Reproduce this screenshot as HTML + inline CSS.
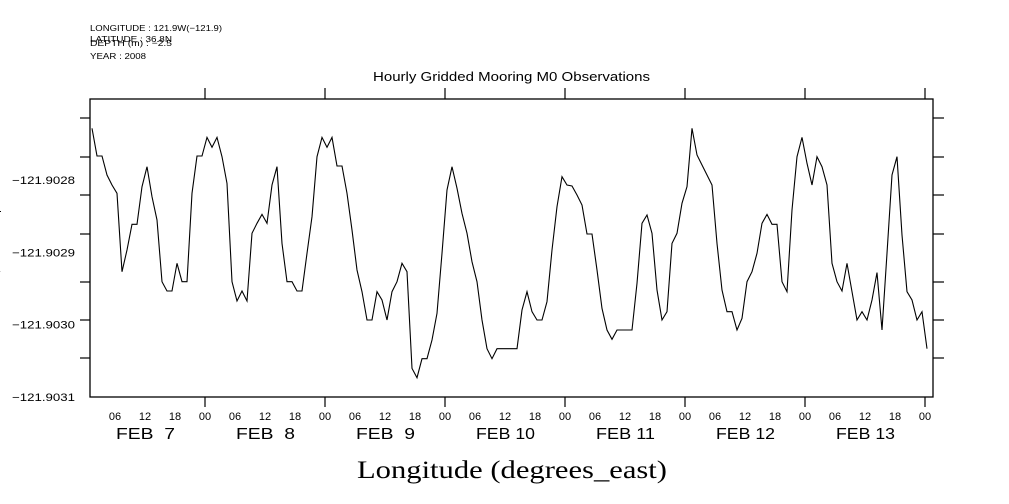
<!DOCTYPE html>
<html><head><meta charset="utf-8"><style>
html,body{margin:0;padding:0;background:#fff;width:1009px;height:504px;overflow:hidden}
svg{display:block}
text{font-family:"Liberation Sans",sans-serif;fill:#000}
</style></head><body>
<svg id="chart" width="1009" height="504" viewBox="0 0 1009 504" xmlns="http://www.w3.org/2000/svg">
<g font-size="8.5">
<text x="90" y="31" textLength="132" lengthAdjust="spacingAndGlyphs">LONGITUDE : 121.9W(−121.9)</text>
<text x="90" y="42" textLength="82" lengthAdjust="spacingAndGlyphs">LATITUDE : 36.8N</text>
<text x="90" y="46" textLength="82" lengthAdjust="spacingAndGlyphs">DEPTH (m) : −2.5</text>
<text x="90" y="59" textLength="56" lengthAdjust="spacingAndGlyphs">YEAR : 2008</text>
</g>
<text x="373" y="81" textLength="277" lengthAdjust="spacingAndGlyphs" font-size="12.5">Hourly Gridded Mooring M0 Observations</text>
<text x="357" y="478" textLength="310" lengthAdjust="spacingAndGlyphs" font-size="25" style="font-family:'Liberation Serif',serif">Longitude (degrees_east)</text>
<text transform="translate(-7,240) rotate(90)" text-anchor="middle" font-size="11">degrees_east</text>
<rect x="90" y="99" width="843" height="298" fill="none" stroke="#000" stroke-width="1.3"/>
<g id="axes"></g>
<g id="series"></g>
</svg>
<script>
const startHour = 1.4; // hours after FEB 7 00:00 of first sample
const dayLabels = ["FEB  7","FEB  8","FEB  9","FEB 10","FEB 11","FEB 12","FEB 13"];
const hourLabels = ["06","12","18","00"];
const yTickValues = [-121.9028,-121.9029,-121.9030,-121.9031];
const yTickLabels = ["−121.9028","−121.9029","−121.9030","−121.9031"];
const minorTickPx = [118,157,195,234,282,320,358];
const values = [
-121.9027284,-121.9027667,-121.9027667,-121.9027930,-121.9028068,-121.9028183,-121.9029267,-121.9028967,-121.9028612,-121.9028612,
-121.9028091,-121.9027814,-121.9028229,-121.9028552,-121.9029405,-121.9029534,-121.9029534,-121.9029151,-121.9029405,-121.9029405,
-121.9028183,-121.9027667,-121.9027667,-121.9027409,-121.9027547,-121.9027409,-121.9027676,-121.9028045,-121.9029405,-121.9029672,
-121.9029534,-121.9029672,-121.9028736,-121.9028598,-121.9028474,-121.9028598,-121.9028068,-121.9027814,-121.9028875,-121.9029405,
-121.9029405,-121.9029534,-121.9029534,-121.9029013,-121.9028506,-121.9027676,-121.9027409,-121.9027547,-121.9027409,-121.9027805,
-121.9027805,-121.9028183,-121.9028690,-121.9029243,-121.9029543,-121.9029935,-121.9029935,-121.9029543,-121.9029658,-121.9029935,
-121.9029543,-121.9029405,-121.9029151,-121.9029267,-121.9030604,-121.9030733,-121.9030470,-121.9030470,-121.9030212,-121.9029843,
-121.9029013,-121.9028137,-121.9027814,-121.9028114,-121.9028460,-121.9028736,-121.9029128,-121.9029405,-121.9029935,-121.9030332,
-121.9030470,-121.9030332,-121.9030332,-121.9030332,-121.9030332,-121.9030332,-121.9029797,-121.9029543,-121.9029820,-121.9029935,
-121.9029935,-121.9029681,-121.9028967,-121.9028368,-121.9027953,-121.9028068,-121.9028082,-121.9028206,-121.9028344,-121.9028746,
-121.9028746,-121.9029243,-121.9029774,-121.9030073,-121.9030202,-121.9030073,-121.9030073,-121.9030073,-121.9030073,-121.9029428,
-121.9028598,-121.9028483,-121.9028736,-121.9029520,-121.9029935,-121.9029820,-121.9028875,-121.9028736,-121.9028321,-121.9028091,
-121.9027284,-121.9027653,-121.9027791,-121.9027930,-121.9028068,-121.9028875,-121.9029520,-121.9029820,-121.9029820,-121.9030073,
-121.9029912,-121.9029405,-121.9029267,-121.9029013,-121.9028598,-121.9028474,-121.9028612,-121.9028612,-121.9029405,-121.9029543,
-121.9028414,-121.9027676,-121.9027409,-121.9027768,-121.9028068,-121.9027676,-121.9027814,-121.9028068,-121.9029151,-121.9029405,
-121.9029534,-121.9029151,-121.9029543,-121.9029935,-121.9029820,-121.9029935,-121.9029658,-121.9029280,-121.9030073,-121.9029013,
-121.9027930,-121.9027676,-121.9028759,-121.9029543,-121.9029658,-121.9029935,-121.9029820,-121.9030332
];
const NS="http://www.w3.org/2000/svg";
const X0=90,X1=933,Y0=99,Y1=397;
function xScale(h){return 205+(h-24)*5;}
function yScale(v){return 397-(v-(-121.9031))/0.0001*72.3;}
function mk(tag,attrs,parent){const e=document.createElementNS(NS,tag);for(const k in attrs)e.setAttribute(k,attrs[k]);parent.appendChild(e);return e;}
const axes=document.getElementById('axes');
const series=document.getElementById('series');
minorTickPx.forEach(py=>{
  const l=mk('line',{x1:80,x2:X0,y1:py,y2:py,stroke:'#000','stroke-width':1.2},axes);
  
  
  const r=mk('line',{x1:X1,x2:X1+11,y1:py,y2:py,stroke:'#000','stroke-width':1.2},axes);
  
  
});
yTickValues.forEach((v,i)=>{
  const t=mk('text',{x:12,y:yScale(v)+4,'font-size':11,textLength:63,lengthAdjust:'spacingAndGlyphs'},axes);
  t.textContent=yTickLabels[i];
  
  
});
for(let d=0;d<dayLabels.length;d++){
  const h00=(d+1)*24;
  const px=xScale(h00);
  const tt=mk('line',{x1:px,x2:px,y1:Y0-11,y2:Y0,stroke:'#000','stroke-width':1.2},axes);
  
  
  const tb=mk('line',{x1:px,x2:px,y1:Y1,y2:Y1+10,stroke:'#000','stroke-width':1.2},axes);
  
  
  hourLabels.forEach((lab,j)=>{
    const hx=xScale(d*24+6*(j+1));
    const t=mk('text',{x:hx,y:420,'text-anchor':'middle','font-size':11},axes);
    t.textContent=lab;
    
    
  });
  const dl=mk('text',{x:xScale(d*24+12)-29,y:439,'font-size':16,textLength:59,lengthAdjust:'spacingAndGlyphs'},axes);
  dl.style.whiteSpace='pre';
  dl.textContent=dayLabels[d];
  
  
}
const pts=values.map((v,i)=>xScale(startHour+i).toFixed(1)+','+yScale(v).toFixed(1)).join(' ');
const pl=mk('polyline',{points:pts,fill:'none',stroke:'#000','stroke-width':1.1},series);


</script>
</body></html>
